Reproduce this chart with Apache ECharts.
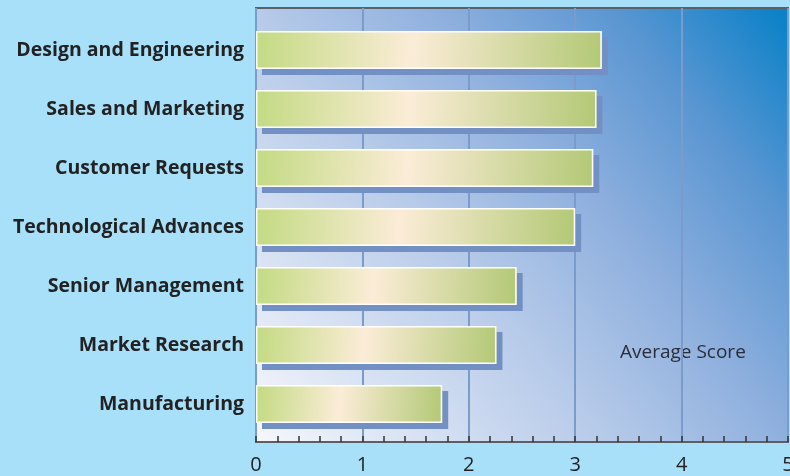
<!DOCTYPE html>
<html>
<head>
<meta charset="utf-8">
<script src="https://cdn.jsdelivr.net/npm/echarts@6/dist/echarts.min.js"></script>
<style>
  html, body { margin: 0; padding: 0; background: #a8e0fa; }
  #myChart { width: 790px; height: 476px; }
</style>
</head>
<body>
<div id="myChart"></div>
<script>
// data
const categories = ['Design and Engineering', 'Sales and Marketing', 'Customer Requests',
  'Technological Advances', 'Senior Management', 'Market Research', 'Manufacturing'];
const scores = [3.25, 3.2, 3.17, 3.0, 2.45, 2.26, 1.75];
const axisMin = 0;
const axisMax = 5;
const axisName = 'Average Score';

const myChart = echarts.init(document.getElementById('myChart'));

const barFill = new echarts.graphic.LinearGradient(0, 0.3, 1, 0.7, [
  { offset: 0, color: '#c3da82' },
  { offset: 0.45, color: '#fbecd7' },
  { offset: 1, color: '#b3c976' }
]);

const plotFill = new echarts.graphic.LinearGradient(0, 1, 1, 0, [
  { offset: 0, color: '#f6f7fc' },
  { offset: 0.4, color: '#b6cae9' },
  { offset: 0.6, color: '#8fb0de' },
  { offset: 0.8, color: '#5a96d2' },
  { offset: 1, color: '#0580c7' }
]);

const option = {
  backgroundColor: '#a8e0fa',
  animation: false,
  grid: [
    // frame, background, x axis
    { left: 256, right: 2, top: 8, bottom: 34, show: true, outerBoundsMode: 'none',
      backgroundColor: plotFill, borderColor: '#5c5f66', borderWidth: 2 },
    // bars
    { left: 256, right: 2, top: 20.5, bottom: 42.5, outerBoundsMode: 'none' }
  ],
  xAxis: [
    {
      gridIndex: 0, type: 'value', min: axisMin, max: axisMax, interval: 1,
      axisLine: { show: true, lineStyle: { color: '#5c5f66', width: 2 } },
      axisTick: { show: true, inside: true, length: 6, lineStyle: { color: '#333', width: 1.5 } },
      minorTick: { show: true, splitNumber: 5, length: 6, lineStyle: { color: '#333', width: 1.5 } },
      splitLine: { show: true, lineStyle: { color: '#7b9bcb', width: 2 } },
      axisLabel: { color: '#222', fontSize: 20, fontFamily: 'Open Sans', margin: 13 }
    },
    {
      gridIndex: 1, type: 'value', min: axisMin, max: axisMax, show: false
    }
  ],
  yAxis: [
    { gridIndex: 0, type: 'category', data: categories, show: false },
    {
      gridIndex: 1, type: 'category', data: categories, inverse: true,
      axisLine: { show: false }, axisTick: { show: false },
      axisLabel: { color: '#222', fontSize: 19.5, fontWeight: 'bold', fontFamily: 'Open Sans', margin: 12 }
    }
  ],
  series: [
    {
      // filled bars with their offset shadow
      type: 'bar', xAxisIndex: 1, yAxisIndex: 1, data: scores, barWidth: 38,
      itemStyle: {
        color: barFill,
        shadowColor: '#7390c4', shadowOffsetX: 6, shadowOffsetY: 6, shadowBlur: 0
      }
    },
    {
      // white outline on top, no shadow
      type: 'bar', xAxisIndex: 1, yAxisIndex: 1, data: scores, barWidth: 38, barGap: '-100%',
      z: 3, silent: true,
      itemStyle: { color: 'rgba(0,0,0,0)', borderColor: '#ffffff', borderWidth: 1.5 }
    }
  ],
  graphic: [
    { type: 'text', left: 620, top: 343,
      style: { text: axisName, fill: '#2a2d38', font: '19px "Open Sans"' } }
  ]
};

myChart.setOption(option);
</script>
</body>
</html>
